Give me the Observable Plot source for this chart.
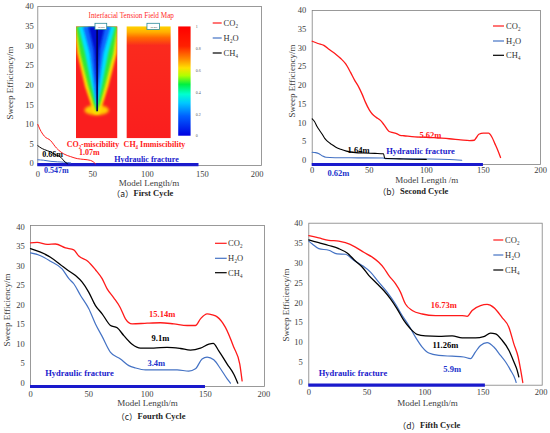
<!DOCTYPE html>
<html><head><meta charset="utf-8">
<script src="https://cdn.jsdelivr.net/npm/d3@7"></script>
<script src="https://cdn.jsdelivr.net/npm/@observablehq/plot@0.6"></script>
<style>
body{margin:0;background:#fff;}
#wrap{position:relative;width:550px;height:433px;overflow:hidden;background:#fff;}
#wrap svg.layer{position:absolute;left:0;top:0;}
</style></head><body><div id="wrap"></div>
<script>
const FONT = '"Liberation Serif","Times New Roman",serif';
const xTicks = [0, 50, 100, 150, 200];
const yTicks = [0, 5, 10, 15, 20, 25, 30, 35, 40];
const seriesNames = ["CO₂", "H₂O", "CH₄"];
const seriesColors = ["#ff1a1a", "#4472c4", "#000000"];

// ---- Cycle 1 ----
const cycle1CO2 = [[0,10],[3,8.2],[6,7],[11.6,5.9],[17,4],[23.7,2.5],[30,1.8],[36,1.3],[42,1.1],[48,0.85],[51,0.4],[52.6,0]];
const cycle1H2O = [[0,1.0],[5,0.9],[12,0.6],[23.7,0.4],[30,0.2]];
const cycle1CH4 = [[0,4.6],[3,4.0],[6,3.6],[11.6,3.0],[16,2.3],[20.7,1.7],[23,1.0],[25,0.4],[27,0]];
// ---- Cycle 2 ----
const cycle2CO2 = [[0,31.8],[5,31.2],[10.2,30.7],[15,29.6],[20.4,28.4],[25,27.2],[29.2,25.8],[33.6,23.5],[37,21.5],[40.9,19.5],[44,17.5],[46.7,15.5],[50,13.5],[52.6,12.4],[56,11.5],[59.8,10.7],[63,9.5],[67.1,7.8],[70,7.5],[74.4,7.1],[77,6.7],[80.3,6.6],[90,6.3],[100,6.2],[110,6.0],[120,5.8],[130,5.5],[138,5.3],[142,5.4],[144,6.2],[146,7.0],[150,7.3],[154.5,7.3],[157.5,6.2],[160,4.5],[163,2.4],[165,0.8]];
const cycle2H2O = [[0,2.2],[3,2.1],[6,1.8],[9,1.2],[12,0.85],[20,0.75],[40,0.7],[62,0.65],[64,0.5],[80,0.45],[100,0.4],[120,0.25],[131,0.05]];
const cycle2CH4 = [[0,11.1],[2,10.4],[4.4,9.0],[6.5,8.0],[8.8,7.0],[11,5.9],[13.5,5.1],[17,4.3],[20.4,3.6],[25,3.0],[30,2.5],[38,2.1],[45,2.0],[55,1.9],[62.5,1.8],[63.5,0.6],[80,0.4],[100,0.3]];
// ---- Cycle 4 ----
const cycle4CO2 = [[0,36.0],[5.7,36.1],[14.3,35.6],[21.4,35.7],[30,34.7],[37.1,34.2],[41.4,32.6],[49.1,31.3],[55.7,29.1],[61.4,26.8],[65.7,24.2],[71.4,21.9],[77.1,19.3],[81.4,16.5],[87.1,15.2],[100,15.4],[111.4,15.5],[122.9,15.2],[134.3,14.8],[141.4,14.8],[145.7,16.5],[151.4,17.8],[156,17.5],[160,17.0],[167.1,14.3],[174.3,9.2],[179.4,4.9],[181.4,0.6]];
const cycle4H2O = [[0,33.4],[8.6,32.7],[17.1,31.3],[27.1,29.3],[32.9,26.8],[37.1,25.5],[42.9,22.5],[50,19.1],[55.7,15.2],[61.4,12.0],[68.6,7.9],[77.1,6.2],[84.3,4.5],[90,3.9],[98.6,3.4],[111.4,3.4],[125.7,3.4],[135.7,3.1],[141.4,3.7],[147.1,6.2],[151.4,6.7],[157.1,6.0],[162.9,3.7],[168.6,1.1],[171.4,0]];
const cycle4CH4 = [[0,34.5],[8.6,33.6],[17.1,32.3],[25.7,30.4],[31.4,29.1],[38.6,27.6],[44.3,25.9],[50,23.3],[55.7,19.9],[61.4,17.8],[68.6,14.8],[74.3,14.2],[80,12.2],[87.1,10.0],[94.3,9.0],[105.7,9.0],[117.1,9.2],[128.6,8.9],[137.1,8.5],[145.7,9.0],[152.9,10.0],[156.6,10.2],[161.4,8.3],[168.6,4.9],[174.3,2.3],[177.7,0]];
// ---- Cycle 5 ----
const cycle5CO2 = [[0,36.9],[8.6,36.3],[17.2,35.7],[25.8,35.5],[31.5,35.1],[40.1,34.0],[47.3,32.7],[54.5,31.5],[60.2,30.2],[64.5,28.8],[68.8,26.9],[74.6,24.8],[78.9,22.7],[83.2,19.7],[89,18.1],[97.6,17.2],[109.1,16.8],[120.5,16.8],[132,16.8],[136.3,16.6],[140.6,18.1],[147.8,19.3],[153.5,19.6],[159.3,18.8],[166.4,16.3],[172.2,13.9],[176.5,9.7],[180.2,6.4],[182.2,3.4],[184.2,0]];
const cycle5H2O = [[0,35.5],[3,34.8],[8.6,33.6],[17.2,33.2],[24.4,32.3],[31.5,32.2],[38.7,30.7],[45.9,29.4],[53.1,27.7],[60.2,25.2],[67.4,22.7],[74.6,19.7],[80.4,16.8],[86.1,14.3],[91.8,11.4],[97.6,8.9],[103.3,7.4],[111.9,6.8],[123.4,6.6],[133.4,6.4],[139.2,6.0],[143.5,7.7],[147.8,9.3],[153.5,10.0],[159.3,8.9],[165,6.8],[169.3,5.2],[173.6,3.1],[177.9,0.6],[178.5,0]];
const cycle5CH4 = [[0,35.8],[8.6,35.1],[17.2,34.4],[25.8,33.6],[33,32.5],[40.1,30.5],[45.9,29.0],[51.6,26.9],[58.8,24.8],[64.5,23.1],[70.3,21.0],[76,18.5],[81.8,15.6],[87.5,13.5],[93.2,12.1],[100.4,11.7],[111.9,11.6],[123.4,11.7],[132,11.2],[143.5,11.2],[150.6,11.5],[156.4,12.4],[160.7,12.2],[166.4,10.6],[172.2,8.1],[176.5,5.2],[179.3,3.1],[180.8,1.4]];

// hydraulic fracture length (m) per panel
const fractureEnd = [147, 150, 150, 152];

// annotations: [text, x, y, kind]
const labels1 = [["0.66m",13.4,2.3,"k"],["0.547m",17,-1.7,"b"],["CO₂-miscibility",50.3,4.9,"r"],["1.07m",47.1,2.8,"r"],["CH₄ Immiscibility",106.4,4.9,"r"],["Hydraulic fracture",99.1,1.0,"f"]];
const labels2 = [["5.62m",103.6,6.7,"r"],["1.64m",40.6,2.7,"k"],["Hydraulic fracture",94.9,2.5,"f"],["0.62m",23,-3.5,"b"]];
const labels4 = [["15.14m",112.9,17.6,"r"],["9.1m",111.4,11.5,"k"],["3.4m",107.8,5.0,"b"],["Hydraulic fracture",42,2.6,"f"]];
const labels5 = [["16.73m",116.2,19.3,"r"],["11.26m",117.6,9.3,"k"],["5.9m",123.4,3.2,"b"],["Hydraulic fracture",38,2.2,"f"]];
const labelColor = {r:"#ff1a1a", k:"#000", b:"#2233cc", f:"#1a1acc"};

// inset (panel a) in data units
const mapLeft = [35.3, 72.9], mapRight = [81.5, 121.6], mapY = [6.4, 34.8];
const colorbarX = [128.5, 139.8], colorbarY = [7.0, 34.8];
const colorbarTicks = [0, 0.2, 0.4, 0.6, 0.8, 1];
const injBoxes = [[52.6, 63.3], [100, 111.5]];
const bandYellow = [[34.8,35.3,72.9],[31,35.3,72.9],[28,36.5,72.4],[19.5,43.5,64.7],[15.3,48.5,60],[12.5,52,56.5]];
const bandGreen = [[34.8,35.3,72.9],[28,38.9,69.3],[19.5,46.5,61.7],[15.3,51,57.5],[13,54.1,54.1]];
const bandCyan = [[34.8,37.5,71],[28,43.5,64.7],[19.5,49.6,58.7],[14,54.1,54.1]];
const bandBlue = [[34.8,41.6,67],[28,48,60.2],[19.5,52,56],[15,54.1,54.1]];
const bandNavy = [[34.8,46.6,61.7],[29,51.5,57],[20,54.1,54.1]];
const glow = [54.1, 13.5, 11, 1.3]; // centre x, centre y, half width, half height

const panels = [
  {left:37.3,right:261,top:6,bottom:165,xd:[0,204],yd:[-0.45,40],xpad:5,ypad:4,series:[cycle1CO2,cycle1H2O,cycle1CH4],frac:0,fracY:-0.25,labels:labels1,sw:[1,1,1],fs:8},
  {left:311.7,right:540,top:10,bottom:164,xd:[0,200],yd:[-1.07,40],xpad:2,ypad:6,series:[cycle2CO2,cycle2H2O,cycle2CH4],frac:1,fracY:-1.07,labels:labels2,sw:[1.3,1.1,1.1],fs:8.5},
  {left:30,right:264,top:225,bottom:386,xd:[0,200.6],yd:[-0.85,40.44],xpad:4,ypad:5.7,series:[cycle4CO2,cycle4H2O,cycle4CH4],frac:2,fracY:-0.85,labels:labels4,sw:[1.3,1.2,1.3],fs:8.5},
  {left:308.3,right:541.7,top:222.7,bottom:384.7,xd:[0,200.9],yd:[-0.68,40],xpad:4,ypad:6,series:[cycle5CO2,cycle5H2O,cycle5CH4],frac:3,fracY:-0.68,labels:labels5,sw:[1.3,1.2,1.3],fs:8.5}
];

const wrap = document.getElementById("wrap");
const px = d => d[0], py = d => d[1];
function baseOpts(p) {
  return {
    width: 550, height: 433,
    marginLeft: p.left, marginRight: 550 - p.right, marginTop: p.top, marginBottom: 433 - p.bottom,
    style: {background: "transparent", fontFamily: FONT, fontSize: "8.5px", color: "#404040", overflow: "visible"}
  };
}
function addLayer(node) { node.classList.add("layer"); wrap.appendChild(node); return node; }

panels.forEach((p, pi) => {
  if (pi === 0) {
    // underlay: the two field maps and the colour bar
    const under = Plot.plot({
      ...baseOpts(p),
      x: {domain: p.xd, axis: null}, y: {domain: p.yd, axis: null},
      marks: [
        Plot.rect([mapLeft], {x1: d => d[0], x2: d => d[1], y1: mapY[0], y2: mapY[1], fill: "#fa1e1e"}),
        Plot.rect([mapRight], {x1: d => d[0], x2: d => d[1], y1: mapY[0], y2: mapY[1], fill: "url(#rightGrad)"}),
        Plot.rect([colorbarX], {x1: d => d[0], x2: d => d[1], y1: colorbarY[0], y2: colorbarY[1], fill: "url(#jetGrad)"})
      ]
    });
    addLayer(under);
    const s = d3.select(under);
    const defs = s.insert("defs", ":first-child");
    const jet = defs.append("linearGradient").attr("id", "jetGrad").attr("x1", 0).attr("y1", 0).attr("x2", 0).attr("y2", 1);
    [[0,"#ff0000"],[0.18,"#ff2000"],[0.3,"#ff8c00"],[0.38,"#ffe000"],[0.45,"#b0ff00"],[0.53,"#00f040"],[0.62,"#00ffd0"],[0.7,"#00c8ff"],[0.82,"#0060ff"],[1,"#0000e0"]]
      .forEach(([o, c]) => jet.append("stop").attr("offset", o).attr("stop-color", c));
    const rg = defs.append("linearGradient").attr("id", "rightGrad").attr("x1", 0).attr("y1", 0).attr("x2", 0).attr("y2", 1);
    [[0,"#ffd200"],[0.05,"#ffb000"],[0.1,"#ff6a00"],[0.17,"#fa2a1e"],[1,"#fa1e1e"]]
      .forEach(([o, c]) => rg.append("stop").attr("offset", o).attr("stop-color", c));

    // field-map bands drawn with the plot's own scales, blurred and clipped to the map
    const sx = under.scale("x").apply, sy = under.scale("y").apply;
    const x0 = sx(mapLeft[0]), x1 = sx(mapLeft[1]), y0 = sy(mapY[1]), y1 = sy(mapY[0]);
    const layer = d3.create("svg").attr("width", 550).attr("height", 433);
    const ldefs = layer.append("defs");
    ldefs.append("filter").attr("id", "bandBlur").attr("x", "-30%").attr("y", "-30%").attr("width", "160%").attr("height", "160%")
      .append("feGaussianBlur").attr("stdDeviation", 1.2);
    ldefs.append("filter").attr("id", "glowBlur").attr("x", "-80%").attr("y", "-80%").attr("width", "260%").attr("height", "260%")
      .append("feGaussianBlur").attr("stdDeviation", 1.8);
    const inner = layer.append("svg").attr("x", x0).attr("y", y0).attr("width", x1 - x0).attr("height", y1 - y0).attr("overflow", "hidden");
    const g = inner.append("g").attr("transform", `translate(${-x0},${-y0})`);
    g.append("ellipse").attr("cx", sx(glow[0])).attr("cy", sy(glow[1]))
      .attr("rx", sx(glow[0] + glow[2]) - sx(glow[0])).attr("ry", sy(glow[1] - glow[3]) - sy(glow[1]))
      .attr("fill", "#ffcc00").attr("filter", "url(#glowBlur)");
    const area = d3.area().y(d => sy(d[0])).x0(d => sx(d[1])).x1(d => sx(d[2]));
    [[bandYellow, "#ffe000"], [bandGreen, "#30e830"], [bandCyan, "#00e0ff"], [bandBlue, "#1066ff"], [bandNavy, "#0010d0"]]
      .forEach(([b, c]) => g.append("path").attr("d", area(b)).attr("fill", c).attr("filter", "url(#bandBlur)"));
    addLayer(layer.node());
  }

  const marks = [Plot.frame({stroke: "#808080", strokeWidth: 0.8})];
  if (pi === 0) {
    marks.push(
      Plot.ruleX([glow[0]], {y1: 13.2, y2: mapY[1], stroke: "#000050", strokeWidth: 1.6}),
      Plot.text(colorbarTicks, {x: 144, y: t => colorbarY[0] + t * (colorbarY[1] - colorbarY[0]), text: t => String(t), fontSize: 4, textAnchor: "start", fill: "#555"}),
      Plot.rect(injBoxes, {x1: d => d[0], x2: d => d[1], y1: 34, y2: 35.6, fill: "white", stroke: "#2a8a9a", strokeWidth: 0.8}),
      Plot.text(injBoxes, {x: d => (d[0] + d[1]) / 2, y: 34.8, text: () => "Inj gas", fontSize: 2.5, fill: "#333"}),
      Plot.text(["Interfacial Tension Field Map"], {x: 85.2, y: 37.6, text: d => d, fill: "#ff2a2a", fontSize: 7.2, fontFamily: FONT})
    );
  }
  marks.push(Plot.ruleY([p.fracY], {x1: 0, x2: fractureEnd[p.frac], stroke: "#1a1acc", strokeWidth: 3.2}));
  p.series.forEach((s, si) => {
    marks.push(Plot.line(s, {x: px, y: py, stroke: seriesColors[si], strokeWidth: p.sw[si], curve: "monotone-x"}));
  });
  marks.push(Plot.text(p.labels, {x: d => d[1], y: d => d[2], text: d => d[0], fill: d => labelColor[d[3]], fontWeight: "bold", fontSize: p.fs, fontFamily: FONT}));

  const svg = Plot.plot({
    ...baseOpts(p),
    x: {domain: p.xd, ticks: xTicks, tickSize: 0, tickPadding: p.xpad, label: null},
    y: {domain: p.yd, ticks: yTicks, tickSize: 0, tickPadding: p.ypad, label: null},
    marks
  });
  addLayer(svg);
});

// overlay texts: axis titles, legends, captions
const ov = d3.create("svg").attr("width", 550).attr("height", 433).style("font-family", FONT);
function txt(x, y, str, o = {}) {
  const t = ov.append("text").attr("x", x).attr("y", y).attr("text-anchor", o.anchor || "middle")
    .attr("dominant-baseline", "central").attr("font-size", o.size || 9).attr("fill", o.fill || "#404040")
    .attr("font-weight", o.weight || "normal");
  if (o.rotate) t.attr("transform", `rotate(-90 ${x} ${y})`);
  t.text(str);
  return t;
}
const yTitles = [[10, 83], [291.7, 81], [6.7, 310], [285.7, 305]];
yTitles.forEach(([x, y]) => txt(x, y, "Sweep Efficiency/m", {rotate: true}));
const xTitles = [[149, 182.7, "Model Length/m"], [426.7, 180, "Model Length /m"], [147.5, 403.3, "Model Length/m"], [427.5, 403.3, "Model Length/m"]];
xTitles.forEach(([x, y, s]) => txt(x, y, s));
const legends = [
  {lx: [212.7, 221.7], tx: 223.5, ys: [23, 38, 53]},
  {lx: [493, 504], tx: 506, ys: [26, 41, 55.3]},
  {lx: [215, 226.7], tx: 228, ys: [243.3, 258.3, 272.7]},
  {lx: [493.3, 503.3], tx: 505, ys: [240, 255, 270]}
];
legends.forEach(L => {
  L.ys.forEach((y, i) => {
    ov.append("line").attr("x1", L.lx[0]).attr("x2", L.lx[1]).attr("y1", y).attr("y2", y)
      .attr("stroke", seriesColors[i]).attr("stroke-width", 1.2);
    txt(L.tx, y, seriesNames[i], {anchor: "start", size: 8.5, fill: "#333"});
  });
});
const captions = [[142.5, 192.7, "a", "First Cycle"], [413, 191, "b", "Second Cycle"], [150.8, 416, "c", "Fourth Cycle"], [429, 425, "d", "Fifth Cycle"]];
captions.forEach(([x, y, k, s]) => {
  const t = txt(x, y, "", {size: 8.5, fill: "#222"});
  t.append("tspan").attr("font-family", '"Noto Sans CJK SC",' + FONT).text(`（${k}）`);
  t.append("tspan").attr("font-weight", "bold").text(s);
});
addLayer(ov.node());
</script></body></html>
